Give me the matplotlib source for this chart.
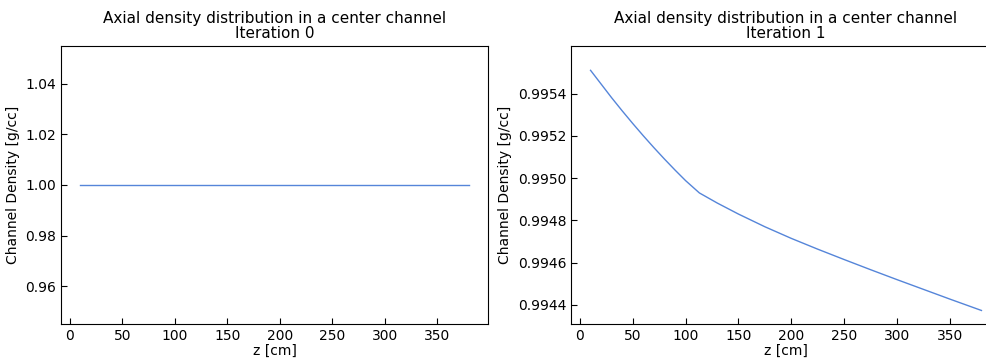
import matplotlib
matplotlib.use("Agg")
import matplotlib.pyplot as plt

# axial node positions [cm] and channel densities [g/cc]
z_iter0 = [10, 380]
rho_iter0 = [1.0, 1.0]

z_iter1 = [10, 20, 30, 40, 50, 60, 70, 80, 90, 100, 113,
           130, 150, 175, 200, 225, 250, 275, 300, 325, 350, 380]
rho_iter1 = [0.99551, 0.995445, 0.99538, 0.995318, 0.995258, 0.9952,
             0.995144, 0.99509, 0.995038, 0.994988, 0.99493,
             0.994882, 0.99483, 0.99477, 0.994715, 0.994664, 0.994615,
             0.994567, 0.99452, 0.994474, 0.994428, 0.994374]

line_color = '#5585d9'

fig = plt.figure(figsize=(9.87, 3.6), dpi=100)
W, H = 987.0, 360.0
ax0 = fig.add_axes([61 / W, 1 - 324 / H, 427 / W, 278 / H])
ax1 = fig.add_axes([571 / W, 1 - 324 / H, 430 / W, 278 / H])

for ax, z, rho, it in [(ax0, z_iter0, rho_iter0, 0), (ax1, z_iter1, rho_iter1, 1)]:
    ax.plot(z, rho, color=line_color, linewidth=1.0)
    ax.set_title('Axial density distribution in a center channel\nIteration %d' % it,
                 fontsize=11, linespacing=1.0)
    ax.set_xlabel('z [cm]', fontsize=10, labelpad=1)
    ax.set_ylabel('Channel Density [g/cc]', fontsize=10)
    ax.tick_params(direction='in', labelsize=10, length=4)
    ax.set_xticks(range(0, 400, 50))
    ax.ticklabel_format(axis='y', useOffset=False)

ax0.set_ylim(0.945, 1.055)
ax0.set_yticks([0.96, 0.98, 1.00, 1.02, 1.04])
ax0.set_xlim(-8.5, 398.5)
ax1.set_xlim(-8.5, 398.5)
ax1.set_ylim(0.99431, 0.995625)
ax1.set_yticks([0.9944, 0.9946, 0.9948, 0.9950, 0.9952, 0.9954])

fig.savefig('out.png', dpi=100)
